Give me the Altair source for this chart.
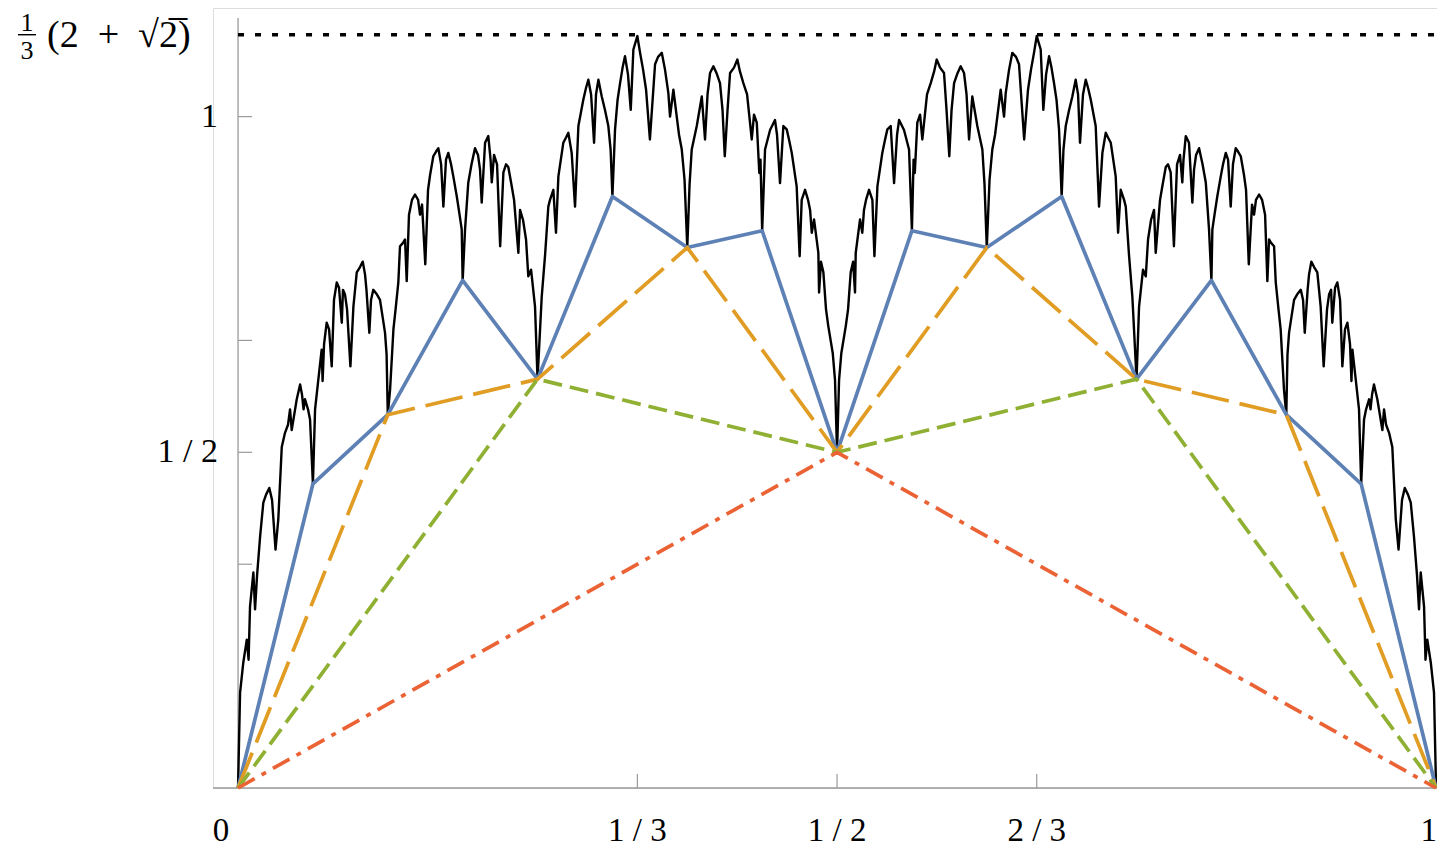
import altair as alt
import pandas as pd

# ---------------- data ----------------
CURVE_X_LEFT = [0.0000, 0.0017, 0.0044, 0.0073, 0.0088, 0.0100, 0.0128, 0.0142, 0.0159, 0.0184,
                0.0211, 0.0234, 0.0261, 0.0284, 0.0313, 0.0336, 0.0365, 0.0392, 0.0417, 0.0434,
                0.0448, 0.0490, 0.0518, 0.0534, 0.0547, 0.0559, 0.0584, 0.0601, 0.0625, 0.0643,
                0.0670, 0.0698, 0.0706, 0.0718, 0.0740, 0.0760, 0.0782, 0.0801, 0.0824, 0.0843,
                0.0866, 0.0876, 0.0893, 0.0910, 0.0938, 0.0963, 0.0991, 0.1018, 0.1041, 0.1060,
                0.1072, 0.1096, 0.1110, 0.1129, 0.1160, 0.1185, 0.1210, 0.1227, 0.1240, 0.1250,
                0.1269, 0.1297, 0.1315, 0.1338, 0.1352, 0.1377, 0.1394, 0.1408, 0.1427, 0.1452,
                0.1477, 0.1503, 0.1519, 0.1536, 0.1563, 0.1586, 0.1603, 0.1630, 0.1653, 0.1672,
                0.1695, 0.1714, 0.1736, 0.1755, 0.1778, 0.1797, 0.1826, 0.1849, 0.1867, 0.1875,
                0.1895, 0.1922, 0.1949, 0.1978, 0.2003, 0.2020, 0.2034, 0.2062, 0.2089, 0.2108,
                0.2118, 0.2137, 0.2162, 0.2188, 0.2215, 0.2237, 0.2256, 0.2285, 0.2304, 0.2340,
                0.2354, 0.2379, 0.2404, 0.2423, 0.2446, 0.2479, 0.2500, 0.2535, 0.2563, 0.2590,
                0.2604, 0.2632, 0.2654, 0.2674, 0.2715, 0.2738, 0.2757, 0.2785, 0.2813, 0.2841,
                0.2882, 0.2905, 0.2924, 0.2947, 0.2972, 0.2988, 0.3008, 0.3036, 0.3063, 0.3091,
                0.3110, 0.3125, 0.3147, 0.3168, 0.3189, 0.3210, 0.3230, 0.3255, 0.3278, 0.3300,
                0.3333, 0.3356, 0.3381, 0.3406, 0.3438, 0.3481, 0.3506, 0.3537, 0.3564, 0.3592,
                0.3606, 0.3634, 0.3662, 0.3681, 0.3704, 0.3727, 0.3750, 0.3769, 0.3787, 0.3829,
                0.3871, 0.3898, 0.3919, 0.3940, 0.3968, 0.3998, 0.4023, 0.4044, 0.4063, 0.4086,
                0.4107, 0.4140, 0.4168, 0.4190, 0.4218, 0.4249, 0.4288, 0.4307, 0.4330, 0.4351,
                0.4361, 0.4375, 0.4399, 0.4441, 0.4482, 0.4499, 0.4524, 0.4552, 0.4580, 0.4599,
                0.4622, 0.4663, 0.4688, 0.4705, 0.4733, 0.4758, 0.4775, 0.4789, 0.4808, 0.4844,
                0.4850, 0.4866, 0.4886, 0.4908, 0.4927, 0.4964, 0.4983, 0.5000]
CURVE_Y_LEFT = [0.000, 0.142, 0.187, 0.221, 0.191, 0.270, 0.321, 0.266, 0.317, 0.374,
                0.425, 0.437, 0.447, 0.429, 0.355, 0.400, 0.508, 0.529, 0.541, 0.564,
                0.533, 0.579, 0.601, 0.586, 0.564, 0.579, 0.564, 0.549, 0.453, 0.564,
                0.608, 0.653, 0.606, 0.661, 0.693, 0.683, 0.628, 0.727, 0.753, 0.745,
                0.693, 0.742, 0.735, 0.713, 0.628, 0.717, 0.768, 0.776, 0.784, 0.765,
                0.742, 0.678, 0.727, 0.742, 0.735, 0.727, 0.698, 0.678, 0.646, 0.556,
                0.593, 0.683, 0.713, 0.753, 0.807, 0.812, 0.817, 0.755, 0.854, 0.876,
                0.884, 0.876, 0.854, 0.869, 0.780, 0.891, 0.913, 0.941, 0.948, 0.953,
                0.929, 0.866, 0.936, 0.946, 0.929, 0.911, 0.881, 0.854, 0.832, 0.756,
                0.832, 0.902, 0.929, 0.953, 0.943, 0.921, 0.872, 0.961, 0.971, 0.936,
                0.902, 0.943, 0.929, 0.807, 0.917, 0.929, 0.925, 0.896, 0.876, 0.797,
                0.861, 0.846, 0.817, 0.762, 0.772, 0.717, 0.609, 0.732, 0.794, 0.866,
                0.876, 0.891, 0.827, 0.911, 0.961, 0.969, 0.976, 0.946, 0.866, 0.986,
                1.025, 1.043, 1.055, 1.033, 0.961, 1.033, 1.055, 1.030, 1.010, 0.986,
                0.951, 0.881, 0.981, 1.025, 1.050, 1.073, 1.090, 1.063, 1.010, 1.100,
                1.120, 1.095, 1.070, 1.040, 0.966, 1.078, 1.089, 1.095, 1.070, 1.035,
                1.000, 1.040, 1.000, 0.973, 0.951, 0.906, 0.805, 0.899, 0.951, 0.986,
                1.030, 0.966, 1.033, 1.065, 1.075, 1.063, 1.050, 1.010, 0.941, 1.010,
                1.065, 1.073, 1.085, 1.067, 1.050, 1.033, 0.966, 1.003, 0.991, 0.916,
                0.936, 0.830, 0.951, 0.980, 0.995, 0.973, 0.901, 0.986, 0.981, 0.966,
                0.946, 0.896, 0.792, 0.876, 0.891, 0.876, 0.861, 0.827, 0.847, 0.797,
                0.738, 0.784, 0.768, 0.713, 0.688, 0.648, 0.608, 0.500]

CURVE_X_RIGHT = [0.5017, 0.5036, 0.5073, 0.5092, 0.5114, 0.5134, 0.5150, 0.5156, 0.5192, 0.5211,
                 0.5225, 0.5242, 0.5267, 0.5295, 0.5312, 0.5337, 0.5378, 0.5401, 0.5420, 0.5448,
                 0.5476, 0.5501, 0.5518, 0.5559, 0.5601, 0.5625, 0.5639, 0.5649, 0.5670, 0.5693,
                 0.5712, 0.5751, 0.5782, 0.5810, 0.5832, 0.5860, 0.5893, 0.5914, 0.5937, 0.5956,
                 0.5977, 0.6002, 0.6032, 0.6060, 0.6081, 0.6102, 0.6129, 0.6171, 0.6213, 0.6231,
                 0.6250, 0.6273, 0.6296, 0.6319, 0.6338, 0.6366, 0.6394, 0.6408, 0.6436, 0.6463,
                 0.6494, 0.6519, 0.6562, 0.6594, 0.6619, 0.6644, 0.6667, 0.6700, 0.6722, 0.6745,
                 0.6770, 0.6790, 0.6811, 0.6832, 0.6853, 0.6875, 0.6890, 0.6909, 0.6937, 0.6964,
                 0.6992, 0.7012, 0.7028, 0.7053, 0.7076, 0.7095, 0.7118, 0.7159, 0.7187, 0.7215,
                 0.7243, 0.7262, 0.7285, 0.7326, 0.7346, 0.7368, 0.7396, 0.7410, 0.7437, 0.7465,
                 0.7500, 0.7521, 0.7554, 0.7577, 0.7596, 0.7621, 0.7646, 0.7660, 0.7696, 0.7715,
                 0.7744, 0.7763, 0.7785, 0.7812, 0.7838, 0.7863, 0.7882, 0.7892, 0.7911, 0.7938,
                 0.7966, 0.7980, 0.7997, 0.8022, 0.8051, 0.8078, 0.8105, 0.8125, 0.8133, 0.8151,
                 0.8174, 0.8203, 0.8222, 0.8245, 0.8264, 0.8286, 0.8305, 0.8328, 0.8347, 0.8370,
                 0.8397, 0.8414, 0.8437, 0.8464, 0.8481, 0.8497, 0.8523, 0.8548, 0.8573, 0.8592,
                 0.8606, 0.8623, 0.8648, 0.8662, 0.8685, 0.8703, 0.8731, 0.8750, 0.8760, 0.8773,
                 0.8790, 0.8815, 0.8840, 0.8871, 0.8890, 0.8904, 0.8928, 0.8940, 0.8959, 0.8982,
                 0.9009, 0.9037, 0.9062, 0.9090, 0.9107, 0.9124, 0.9134, 0.9157, 0.9176, 0.9199,
                 0.9218, 0.9240, 0.9260, 0.9282, 0.9294, 0.9302, 0.9330, 0.9357, 0.9375, 0.9399,
                 0.9416, 0.9441, 0.9453, 0.9466, 0.9482, 0.9510, 0.9552, 0.9566, 0.9583, 0.9608,
                 0.9635, 0.9664, 0.9687, 0.9716, 0.9739, 0.9766, 0.9789, 0.9816, 0.9841, 0.9858,
                 0.9872, 0.9900, 0.9912, 0.9927, 0.9956, 0.9983, 1.0000]
CURVE_Y_RIGHT = [0.608, 0.648, 0.688, 0.713, 0.768, 0.784, 0.738, 0.797, 0.847, 0.827,
                 0.861, 0.876, 0.891, 0.876, 0.792, 0.896, 0.946, 0.966, 0.981, 0.986,
                 0.901, 0.973, 0.995, 0.980, 0.951, 0.830, 0.936, 0.916, 0.991, 1.003,
                 0.966, 1.033, 1.050, 1.067, 1.085, 1.073, 1.065, 1.010, 0.941, 1.010,
                 1.050, 1.063, 1.075, 1.065, 1.033, 0.966, 1.030, 0.986, 0.951, 0.899,
                 0.805, 0.906, 0.951, 0.973, 1.000, 1.040, 1.000, 1.035, 1.070, 1.095,
                 1.089, 1.078, 0.966, 1.040, 1.070, 1.095, 1.120, 1.100, 1.010, 1.063,
                 1.090, 1.073, 1.050, 1.025, 0.981, 0.881, 0.951, 0.986, 1.010, 1.030,
                 1.055, 1.033, 0.961, 1.033, 1.055, 1.043, 1.025, 0.986, 0.866, 0.946,
                 0.976, 0.969, 0.961, 0.911, 0.827, 0.891, 0.876, 0.866, 0.794, 0.732,
                 0.609, 0.717, 0.772, 0.762, 0.817, 0.846, 0.861, 0.797, 0.876, 0.896,
                 0.925, 0.929, 0.917, 0.807, 0.929, 0.943, 0.902, 0.936, 0.971, 0.961,
                 0.872, 0.921, 0.943, 0.953, 0.929, 0.902, 0.832, 0.756, 0.832, 0.854,
                 0.881, 0.911, 0.929, 0.946, 0.936, 0.866, 0.929, 0.953, 0.948, 0.941,
                 0.913, 0.891, 0.780, 0.869, 0.854, 0.876, 0.884, 0.876, 0.854, 0.755,
                 0.817, 0.812, 0.807, 0.753, 0.713, 0.683, 0.593, 0.556, 0.646, 0.678,
                 0.698, 0.727, 0.735, 0.742, 0.727, 0.678, 0.742, 0.765, 0.784, 0.776,
                 0.768, 0.717, 0.628, 0.713, 0.735, 0.742, 0.693, 0.745, 0.753, 0.727,
                 0.628, 0.683, 0.693, 0.661, 0.606, 0.653, 0.608, 0.564, 0.453, 0.549,
                 0.564, 0.579, 0.564, 0.586, 0.601, 0.579, 0.533, 0.564, 0.541, 0.529,
                 0.508, 0.400, 0.355, 0.429, 0.447, 0.437, 0.425, 0.374, 0.317, 0.266,
                 0.321, 0.270, 0.191, 0.221, 0.187, 0.142, 0.000]

BLUE_X = [0, 1/16, 2/16, 3/16, 4/16, 5/16, 6/16, 7/16, 8/16, 9/16, 10/16, 11/16, 12/16, 13/16, 14/16, 15/16, 1]
BLUE_Y = [0, 0.453, 0.556, 0.756, 0.609, 0.881, 0.805, 0.830, 0.500, 0.830, 0.805, 0.881, 0.609, 0.756, 0.556, 0.453, 0]
ORANGE_X = [0, 1/8, 2/8, 3/8, 4/8, 5/8, 6/8, 7/8, 1]
ORANGE_Y = [0, 0.556, 0.609, 0.805, 0.500, 0.805, 0.609, 0.556, 0]
GREEN_X = [0, 1/4, 1/2, 3/4, 1]
GREEN_Y = [0, 0.609, 0.500, 0.609, 0]
RED_X = [0, 1/2, 1]
RED_Y = [0, 0.500, 0]

TOP_LEVEL = 1.122               # the dotted line, labelled (1/3)(2+sqrt 2)
X_TICKS = [1/3, 1/2, 2/3]
X_LABEL_VALUES = [1/3, 1/2, 2/3]
X_LABELS = ["1 / 3", "1 / 2", "2 / 3"]
Y_TICKS = [1/3, 1/2, 2/3, 1]
Y_LABEL_VALUES = [1/2, 1]
Y_LABELS = ["1 / 2", "1"]

X_DOMAIN = [-0.0209, 1.0008]
Y_DOMAIN = [0, 1.1618]
Y_AXIS_TOP = 1.147

# ---------------- chart ----------------
W, H = 1224, 780
FONT = "Liberation Serif"
xs = alt.Scale(domain=X_DOMAIN, nice=False, zero=False)
ys = alt.Scale(domain=Y_DOMAIN, nice=False, zero=False)

curve = pd.DataFrame({"x": CURVE_X_LEFT + CURVE_X_RIGHT, "y": CURVE_Y_LEFT + CURVE_Y_RIGHT})


def line_layer(xv, yv, color, width, dash=None):
    df = pd.DataFrame({"x": xv, "y": yv, "o": range(len(xv))})
    kw = dict(color=color, strokeWidth=width, strokeJoin="round", strokeCap="butt")
    if dash:
        kw["strokeDash"] = dash
    return alt.Chart(df).mark_line(**kw).encode(
        x=alt.X("x:Q", scale=xs, axis=None),
        y=alt.Y("y:Q", scale=ys, axis=None),
        order="o:Q",
    )


AXIS_COLOR = "#9a9a9a"
x_axis = alt.Chart().mark_rule(color=AXIS_COLOR, strokeWidth=1.3).encode(
    y=alt.Y(datum=0, scale=ys, axis=None), x=alt.value(0), x2=alt.value(W))
y_axis = alt.Chart().mark_rule(color=AXIS_COLOR, strokeWidth=1.3).encode(
    x=alt.X(datum=0, scale=xs, axis=None),
    y=alt.Y(datum=0, scale=ys, axis=None), y2=alt.Y2(datum=Y_AXIS_TOP))

xt = pd.DataFrame({"v": X_TICKS})
x_ticks = alt.Chart(xt).mark_rule(color=AXIS_COLOR, strokeWidth=1.2).encode(
    x=alt.X("v:Q", scale=xs, axis=None),
    y=alt.Y(datum=0, scale=ys, axis=None),
    y2=alt.Y2(datum=0.0209))
yt = pd.DataFrame({"v": Y_TICKS})
y_ticks = alt.Chart(yt).mark_rule(color=AXIS_COLOR, strokeWidth=1.2).encode(
    y=alt.Y("v:Q", scale=ys, axis=None),
    x=alt.X(datum=0, scale=xs, axis=None),
    x2=alt.X2(datum=0.0117))

top_line = alt.Chart().mark_rule(color="black", strokeWidth=3.4, strokeDash=[6, 11]).encode(
    y=alt.Y(datum=TOP_LEVEL, scale=ys, axis=None),
    x=alt.X(datum=0, scale=xs, axis=None),
    x2=alt.X2(datum=1))

xl = pd.DataFrame({"v": X_LABEL_VALUES, "t": X_LABELS})
x_labels = alt.Chart(xl).mark_text(font=FONT, fontSize=33, baseline="middle", align="center", color="black").encode(
    x=alt.X("v:Q", scale=xs, axis=None), y=alt.value(H + 43), text="t:N")
zero_label = alt.Chart().mark_text(font=FONT, fontSize=33, baseline="middle", align="center", color="black", dx=-17).encode(
    x=alt.X(datum=0, scale=xs, axis=None), y=alt.value(H + 43), text=alt.value("0"))
one_label = alt.Chart().mark_text(font=FONT, fontSize=33, baseline="middle", align="right", color="black", dx=1).encode(
    x=alt.X(datum=1, scale=xs, axis=None), y=alt.value(H + 43), text=alt.value("1"))

yl = pd.DataFrame({"v": Y_LABEL_VALUES, "t": Y_LABELS})
y_labels = alt.Chart(yl).mark_text(font=FONT, fontSize=34, baseline="middle", align="right", color="black").encode(
    y=alt.Y("v:Q", scale=ys, axis=None), x=alt.value(5), text="t:N")

num = alt.Chart().mark_text(font=FONT, fontSize=26, baseline="middle", align="center", dy=-12).encode(
    y=alt.Y(datum=TOP_LEVEL, scale=ys, axis=None), x=alt.value(-186), text=alt.value("1"))
den = alt.Chart().mark_text(font=FONT, fontSize=26, baseline="middle", align="center", dy=16).encode(
    y=alt.Y(datum=TOP_LEVEL, scale=ys, axis=None), x=alt.value(-186), text=alt.value("3"))
bar = alt.Chart().mark_rule(color="black", strokeWidth=1.4).encode(
    y=alt.Y(datum=TOP_LEVEL, scale=ys, axis=None), x=alt.value(-195), x2=alt.value(-177))
rest = alt.Chart().mark_text(font=FONT, fontSize=38, baseline="middle", align="left", dy=1).encode(
    y=alt.Y(datum=TOP_LEVEL, scale=ys, axis=None), x=alt.value(-166),
    text=alt.value("(2\u2002+\u2002\u221a2\u0305)"))

black = alt.Chart(curve).mark_line(color="black", strokeWidth=2.4, strokeJoin="round").encode(
    x=alt.X("x:Q", scale=xs, axis=None), y=alt.Y("y:Q", scale=ys, axis=None))

chart = alt.layer(
    x_axis, y_axis, x_ticks, y_ticks, top_line,
    black,
    line_layer(BLUE_X, BLUE_Y, "#5E81B5", 3.7),
    line_layer(ORANGE_X, ORANGE_Y, "#E19C24", 3.7, [38, 11]),
    line_layer(GREEN_X, GREEN_Y, "#8FB032", 3.7, [19, 8]),
    line_layer(RED_X, RED_Y, "#EB6235", 3.7, [19, 8, 5, 8]),
    x_labels, zero_label, one_label, y_labels, num, den, bar, rest,
).properties(
    width=W, height=H,
    autosize=alt.AutoSizeParams(type="none"),
    padding={"left": 205, "top": 0, "right": 0, "bottom": 60},
).configure_view(stroke=None).configure(background="white")

chart.save("out.html", embed_options={"renderer": "svg", "actions": False})
